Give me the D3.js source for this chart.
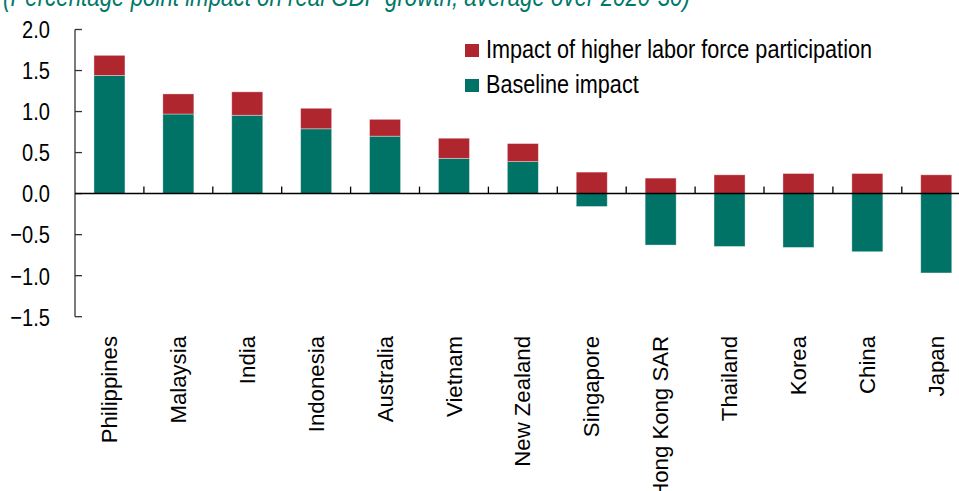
<!DOCTYPE html>
<html><head><meta charset="utf-8">
<script src="https://cdn.jsdelivr.net/npm/d3@7"></script>
<style>html,body{margin:0;padding:0;background:#fff;overflow:hidden} svg{display:block}</style>
</head><body>
<svg id="chart" width="959" height="491"></svg>
<script>
const categories = ["Philippines","Malaysia","India","Indonesia","Australia","Vietnam","New Zealand","Singapore","Hong Kong SAR","Thailand","Korea","China","Japan"];
const baselineImpact = [1.44,0.97,0.955,0.79,0.70,0.43,0.39,-0.157,-0.627,-0.644,-0.656,-0.708,-0.967];
const laborImpact = [0.245,0.245,0.285,0.25,0.205,0.245,0.22,0.262,0.189,0.229,0.245,0.245,0.229];
const seriesKeys = ["baseline","labor"];
const seriesNames = {baseline:"Baseline impact", labor:"Impact of higher labor force participation"};
const yTicks = [-1.5,-1.0,-0.5,0,0.5,1.0,1.5,2.0];
const titleText = "(Percentage point impact on real GDP growth; average over 2020-30)";

const colors = {baseline:"#007366", labor:"#B0262F"};
const teal = "#00786A";

function hasFont(name){
  const c=document.createElement('canvas').getContext('2d');
  const s="Impact of higher labor 0123 mmmWWiil";
  c.font="40px monospace"; const a=c.measureText(s).width;
  c.font='40px "'+name+'", monospace'; const b=c.measureText(s).width;
  return Math.abs(a-b)>0.5;
}
const narrowOK = hasFont("Liberation Sans Narrow");
const narrowFamily = narrowOK ? '"Liberation Sans Narrow","Arial Narrow",sans-serif' : '"Liberation Sans",Arial,sans-serif';
const narrowScale = narrowOK ? "" : " scale(0.82,1)";

const svg = d3.select("#chart");

function narrowText(parent, x, y, txt, size, anchor, extra){
  const g = parent.append("g").attr("transform", `translate(${x},${y})${narrowScale}`);
  const t = g.append("text").attr("x",0).attr("y",0)
    .attr("font-family", narrowFamily).attr("font-size", size)
    .attr("text-anchor", anchor).attr("fill","#000").text(txt);
  if (extra) extra(t);
  return t;
}

const data = categories.map((c,i)=>({cat:c, baseline:baselineImpact[i], labor:laborImpact[i]}));

const x = d3.scaleBand().domain(categories).range([75, 75 + 13*68.9]).paddingInner(0.55).paddingOuter(0.275);
const y = d3.scaleLinear().domain([-1.5, 2.0]).range([316.7, 29.5]);

const stack = d3.stack().keys(seriesKeys).offset(d3.stackOffsetDiverging);
const layers = stack(data);

// bars
svg.append("g").selectAll("g").data(layers).join("g")
  .attr("fill", d=>colors[d.key])
  .selectAll("rect").data(d=>d).join("rect")
  .attr("x", d=>x(d.data.cat))
  .attr("width", x.bandwidth())
  .attr("y", d=>y(Math.max(d[0],d[1])))
  .attr("height", d=>Math.abs(y(d[0])-y(d[1])))
  .attr("stroke","rgba(255,255,255,0.45)").attr("stroke-width",0.8);

// y axis
const yAxisG = svg.append("g");
yAxisG.append("line").attr("x1",75).attr("x2",75).attr("y1",y(2.0)).attr("y2",y(-1.5))
  .attr("stroke","#333").attr("stroke-width",1.3);
yTicks.forEach(t=>{
  yAxisG.append("line").attr("x1",75).attr("x2",82).attr("y1",y(t)).attr("y2",y(t))
    .attr("stroke","#333").attr("stroke-width",1.3);
  narrowText(yAxisG, 50, y(t), d3.format(".1f")(t), 24.5, "end", t=>t.attr("dy","0.36em"));
});

// x axis (at zero)
const xAxisG = svg.append("g");
xAxisG.append("line").attr("x1",75).attr("x2",959).attr("y1",y(0)).attr("y2",y(0))
  .attr("stroke","#000").attr("stroke-width",1.5);
d3.range(1, categories.length).forEach(k=>{
  const bx = x.range()[0] + k*x.step();
  xAxisG.append("line").attr("x1",bx).attr("x2",bx).attr("y1",y(0)).attr("y2",y(0)-7)
    .attr("stroke","#000").attr("stroke-width",1.3);
});
categories.forEach(c=>{
  const cx = x(c) + x.bandwidth()/2;
  xAxisG.append("text")
    .attr("transform",`translate(${cx},336) rotate(-90)`)
    .attr("text-anchor","end").attr("dy","0.34em")
    .attr("font-family",'"Liberation Sans",Arial,sans-serif').attr("font-size",22.2)
    .attr("fill","#000").text(c);
});

// legend
const legendItems = ["labor","baseline"];
const lg = svg.append("g");
legendItems.forEach((k,i)=>{
  const yy = 44 + i*35;
  lg.append("rect").attr("x",465).attr("y",yy).attr("width",14).attr("height",13).attr("fill",colors[k]);
  narrowText(lg, 486, yy+13.7, seriesNames[k], 26.4, "start");
});

// title (clipped at top)
narrowText(svg, 3, 5.5, titleText, 27.2, "start", t=>t.attr("font-style","italic").attr("fill",teal));
</script>
</body></html>
